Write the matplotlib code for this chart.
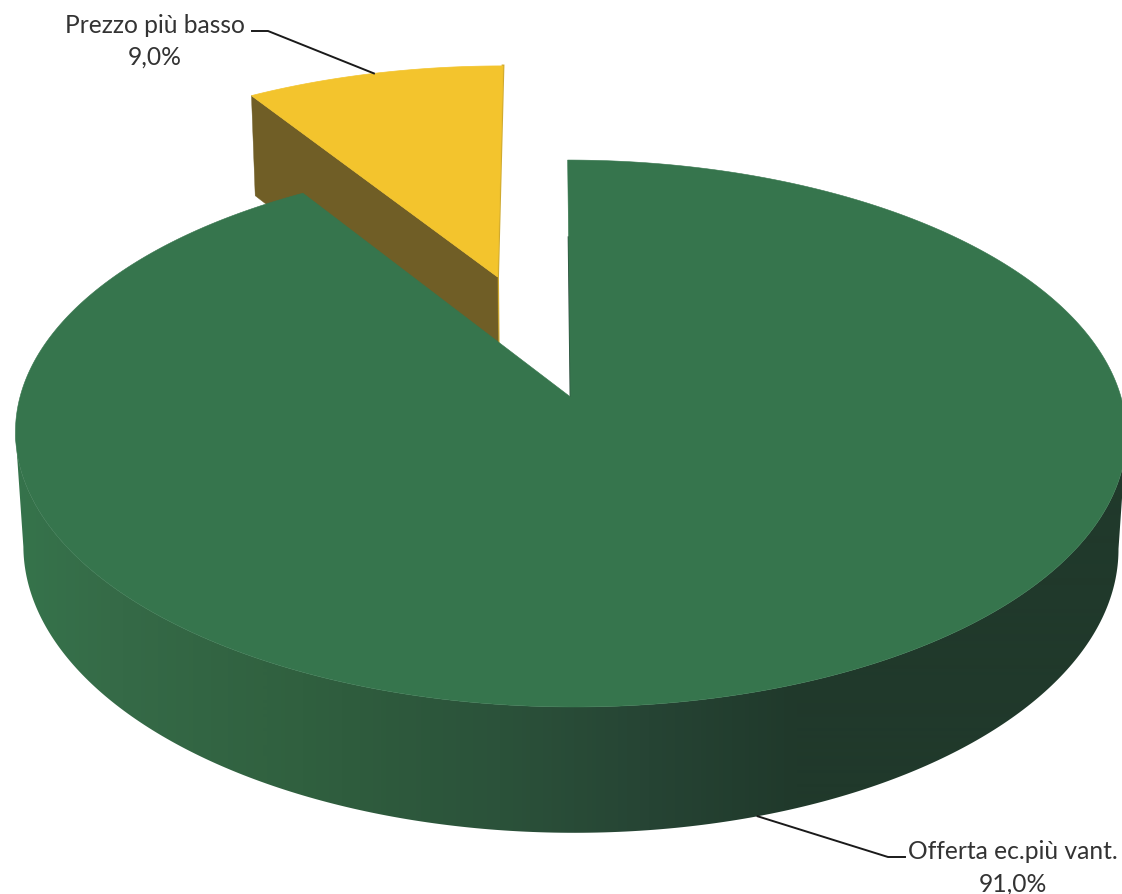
"""3D pie (exploded slice) drawn with a perspective projection in pixel coordinates"""
import numpy as np
import matplotlib
matplotlib.use('Agg')
import matplotlib.pyplot as plt
from matplotlib.colors import LinearSegmentedColormap
from matplotlib.patches import Polygon

# data
labels = ['Offerta ec.più vant.', 'Prezzo più basso']
values = [91.0, 9.0]
pct_labels = ['91,0%', '9,0%']
colors_top = ['#36754d', '#f3c42d']
color_inner_wall = '#705e26'
color_edge_wall = '#cfa92f'

# wall shading along screen x
shade_x = [0, 120, 300, 500, 650, 800, 1122]
shade_col = ['#36754c', '#356a47', '#30603f', '#2b523a', '#264434', '#20392b', '#20392b']

# projection
APEX_X, APEX_Y = 570.5, 398
K = 0.1335
A, B = 550.5, 268.6
SHEAR = -0.012
DEPTH = 113
SHRINK = 0.014
EXPLODE = 0.495

W, H = 1122, 895


def project(x, y, low=False):
    w = 1 + K * y
    sx = A * x / w
    sy = -B * y / w
    shear = SHEAR * B * y / w
    if low:
        sx *= 1 - SHRINK / w
        sy += DEPTH / w ** 0.75
    return APEX_X + sx + shear, APEX_Y + sy


def rim(t, off=(0, 0), low=False):
    t = np.radians(t)
    return project(np.sin(t) + off[0], np.cos(t) + off[1], low)


fig = plt.figure(figsize=(W / 100, H / 100), dpi=100)
ax = fig.add_axes([0, 0, 1, 1])
ax.set_xlim(0, W)
ax.set_ylim(H, 0)
ax.axis('off')

sweep = [v / sum(values) * 360 for v in values]
# green starts at 12 o'clock and runs clockwise, yellow closes the circle
t_green = np.linspace(0, sweep[0], 500)
t_yellow = np.linspace(sweep[0], 360, 60)
mid_yellow = np.radians(sweep[0] + sweep[1] / 2)
off = (EXPLODE * np.sin(mid_yellow), EXPLODE * np.cos(mid_yellow))

# ── exploded slice ──
apex_y = project(off[0], off[1])
apex_y_low = project(off[0], off[1], low=True)
left_top = rim(sweep[0], off)
left_low = rim(sweep[0], off, low=True)
right_top = rim(360, off)
ax.plot(*zip(right_top, apex_y, apex_y_low), color=color_edge_wall, lw=2.0, zorder=1)
ax.add_patch(Polygon([left_top, apex_y, apex_y_low, left_low], fc=color_inner_wall, ec=color_inner_wall, lw=0.3, zorder=2))
ax.add_patch(Polygon([apex_y] + [rim(t, off) for t in t_yellow], fc=colors_top[1], ec=colors_top[1], lw=0.5, zorder=3))

# ── main wall: horizontal gradient clipped to the front-facing band ──
rim_x = np.array([rim(t)[0] for t in t_green])
t_front = t_green[np.argmax(rim_x):np.argmin(rim_x) + 1]
wall_pts = [rim(t) for t in t_front] + [rim(t, low=True) for t in t_front[::-1]]
wall = Polygon(wall_pts, fc='none', ec='none', transform=ax.transData)
ax.add_patch(wall)
cmap = LinearSegmentedColormap.from_list('wall', list(zip(np.array(shade_x) / W, shade_col)))
img = ax.imshow(np.linspace(0, 1, W)[None, :], extent=(0, W, H, 0), cmap=cmap, vmin=0, vmax=1,
                aspect='auto', zorder=4, interpolation='bilinear')
img.set_clip_path(wall)

# thin cut wall at 12 o'clock
ax.plot(*zip(rim(0, off=(0, -0.35)), project(0, 0)), color='#2a4a3c', lw=1.3, solid_capstyle='butt', zorder=5)

# ── main top ──
ax.add_patch(Polygon([project(0, 0)] + [rim(t) for t in t_green], fc=colors_top[0], ec=colors_top[0], lw=0.4, zorder=6))

# ── leaders and labels ──
line_col = '#1a1a1a'
p_up = rim(sweep[0] + sweep[1] / 2, off)
ax.plot([p_up[0], 268, 252], [p_up[1], 32, 32], color=line_col, lw=1.4, zorder=7)
p_low = rim(sweep[0] / 2 - 1, low=True)
ax.plot([p_low[0], 888, 905], [p_low[1], 858, 858], color=line_col, lw=1.4, zorder=7)

txt = dict(fontsize=17.7, family='Lato', color='#333333', ha='center', va='center', zorder=8)
ax.text(155, 25, labels[1], **txt)
ax.text(155, 57, pct_labels[1], **txt)
ax.text(1013, 852, labels[0], **txt)
ax.text(1013, 884, pct_labels[0], **txt)

fig.savefig('out.png', dpi=100, facecolor='white')
